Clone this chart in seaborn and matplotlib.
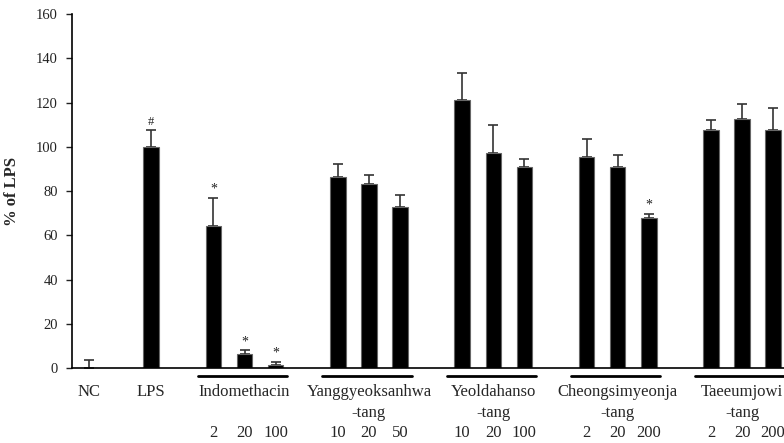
import numpy as np
import pandas as pd
import seaborn as sns
import matplotlib.pyplot as plt

sns.set_style('ticks')
plt.rcParams['font.family'] = ['Liberation Serif', 'DejaVu Serif']

# groups, doses and read-off values (% of LPS)
groups = ["NC", "LPS", "Indomethacin", "Yanggyeoksanhwa\n-tang", "Yeoldahanso\n-tang",
          "Cheongsimyeonja\n-tang", "Taeeumjowi\n-tang"]
doses = [[""], [""], ["2", "20", "100"], ["10", "20", "50"], ["10", "20", "100"],
         ["2", "20", "200"], ["2", "20", "200"]]
means = [0, 100, 64.3, 6.2, 1.5, 86.2, 83.4, 72.6, 121.4, 97.0, 91.1,
         95.6, 91.1, 67.9, 107.4, 112.4, 107.8]
errs = [3.6, 7.7, 12.7, 1.8, 1.2, 6.1, 4.1, 5.7, 12.2, 13.1, 3.5,
        8.0, 5.3, 1.8, 4.8, 7.2, 9.8]
marks = ["", "#", "*", "*", "*", "", "", "", "", "", "",
         "", "", "*", "", "", ""]

# slot positions: one slot per bar, one empty slot between groups
pos = []
grp_span = []
p = 0
for g, d in zip(groups, doses):
    start = p
    for _ in d:
        pos.append(p)
        p += 1
    grp_span.append((start, p - 1))
    p += 1

df = pd.DataFrame({'pos': pos, 'val': means})

fig = plt.figure(figsize=(7.84, 4.43), dpi=100)
ax = fig.add_axes([0.0918, 0.1693, 1 - 0.0918, 0.968 - 0.1693])

ax.errorbar(pos, means, yerr=[np.zeros(len(errs)), errs], fmt='none',
            ecolor='#333333', elinewidth=1.2, capsize=3.5, capthick=1.2, zorder=1)
sns.barplot(data=df, x='pos', y='val', native_scale=True, width=0.5,
            color='black', edgecolor='#666666', linewidth=0.8,
            errorbar=None, ax=ax, zorder=2)

for x, m, e, mk in zip(pos, means, errs, marks):
    if mk:
        ax.text(x, m + e + 1.0, mk, ha='center', va='bottom',
                fontsize=9 if mk == '#' else 10, color='#222222')

ax.set_xlim(-0.55, 22.35)
ax.set_ylim(0, 160)
ax.set_yticks(np.arange(0, 161, 20))
ax.set_xticks([])
ax.set_xlabel('')
ax.set_ylabel('% of LPS', fontsize=12, fontweight='bold')
ax.yaxis.set_label_coords(-0.073, 0.5)
ax.tick_params(axis='y', labelsize=10.5, length=4, width=1, pad=6, colors='#222222')
sns.despine(ax=ax)
for s in ['left', 'bottom']:
    ax.spines[s].set_linewidth(1.2)
    ax.spines[s].set_color('black')

trans = ax.get_xaxis_transform()
for (g, d), (a, b) in zip(zip(groups, doses), grp_span):
    mid = (a + b) / 2
    lines = g.split('\n')
    ax.text(mid, -0.068, lines[0], transform=trans, ha='center', va='center',
            fontsize=12, clip_on=False)
    if len(lines) > 1:
        ax.text(mid, -0.127, lines[1], transform=trans, ha='center', va='center',
                fontsize=12, clip_on=False)
    if len(d) > 1:
        ax.plot([a - 0.5, b + 0.37], [-0.023, -0.023], transform=trans,
                color='black', lw=2, clip_on=False)
        for i, lab in enumerate(d):
            ax.text(a + i, -0.184, lab, transform=trans, ha='center', va='center',
                    fontsize=12, clip_on=False)

fig.savefig('out.png', dpi=100)
